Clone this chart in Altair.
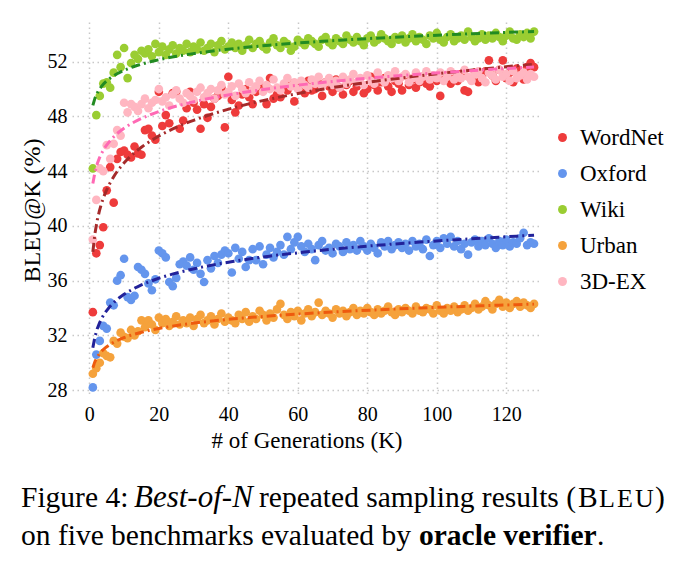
import altair as alt
import pandas as pd

K = list(range(1, 129))

benchmarks = ["WordNet", "Oxford", "Wiki", "Urban", "3D-EX"]

wordnet = [
    33.7, 38.0, 38.6, 39.9, 42.6, 44.3, 41.7, 44.9, 45.4, 45.5,
    45.2, 45.0, 45.8, 45.3, 45.2, 47.0, 47.1, 46.6, 46.3, 49.8,
    47.3, 48.1, 47.5, 49.7, 49.8, 47.1, 47.7, 48.6, 49.8, 49.0,
    48.5, 47.1, 48.9, 47.9, 48.7, 49.3, 49.5, 50.1, 47.2, 50.9,
    49.2, 48.3, 48.8, 49.6, 50.0, 49.4, 48.9, 49.8, 50.3, 49.9,
    48.9, 50.8, 49.3, 49.6, 49.4, 50.2, 49.9, 50.4, 49.1, 50.1,
    50.3, 49.7, 50.6, 49.9, 50.0, 50.4, 49.5, 50.5, 50.2, 49.8,
    50.7, 50.1, 49.6, 50.3, 50.6, 49.8, 50.2, 50.4, 49.7, 50.0,
    50.9, 50.3, 49.9, 50.5, 50.8, 50.2, 49.8, 50.6, 50.4, 49.9,
    51.0, 50.3, 50.7, 50.1, 50.5, 50.9, 50.4, 50.2, 50.8, 50.6,
    49.5, 50.7, 51.0, 50.4, 50.9, 50.6, 51.1, 49.9, 49.8, 50.7,
    51.2, 50.5, 50.9, 51.3, 52.1, 51.0, 50.6, 51.4, 52.1, 50.8,
    51.2, 50.5, 51.5, 51.0, 50.7, 51.6, 51.9, 51.6,
]

oxford = [
    28.2, 30.6, 31.6, 32.7, 32.5, 34.4, 34.2, 36.0, 36.4, 37.6,
    34.8, 34.6, 34.9, 37.0, 36.8, 36.5, 35.8, 35.3, 36.1, 38.2,
    38.0, 37.7, 35.9, 35.6, 36.2, 37.2, 37.4, 37.1, 37.7, 36.8,
    37.3, 36.5, 35.9, 37.5, 36.9, 37.8, 37.3, 37.9, 38.2, 38.0,
    36.6, 38.4, 37.6, 38.1, 37.0, 37.5, 38.3, 37.5, 38.5, 37.2,
    37.9, 38.4, 37.7, 38.1, 38.6, 37.9, 39.2, 38.3, 38.8, 39.2,
    38.5, 38.1, 38.7, 38.3, 37.5, 38.6, 38.9, 38.2, 38.4, 38.0,
    38.7, 38.5, 38.1, 38.8, 38.3, 38.6, 38.2, 38.9, 38.5, 38.2,
    38.7, 38.4, 38.0, 38.8, 38.5, 38.9, 38.3, 38.6, 38.8, 38.4,
    38.7, 38.2, 38.9, 38.5, 38.7, 38.3, 39.0, 37.8, 38.6, 38.9,
    38.4, 39.1, 38.7, 39.2, 38.5, 38.9, 38.3, 38.7, 37.9, 38.8,
    39.0, 38.5, 38.9, 38.6, 39.1, 38.7, 38.4, 38.9, 38.6, 39.0,
    38.5, 38.8, 38.7, 39.1, 39.5, 38.6, 38.8, 38.7,
]

wiki = [
    44.2, 48.1, 49.5, 50.4, 50.5, 50.1, 51.2, 52.5, 51.6, 53.0,
    50.8, 51.9, 52.5, 52.2, 52.8, 52.6, 52.9, 52.4, 53.3, 52.7,
    53.1, 52.5, 52.9, 53.2, 52.6, 53.0, 52.8, 53.3, 52.7, 53.1,
    52.9, 53.4, 52.8, 53.0, 53.3, 52.7, 53.2, 53.5, 52.9, 53.1,
    53.4, 53.0, 53.3, 52.8, 53.2, 53.6, 53.0, 53.3, 53.5, 53.1,
    52.9, 53.4, 53.7, 53.2, 53.0, 53.5, 53.3, 52.8, 53.1, 53.6,
    53.4, 53.2, 53.7, 53.5, 53.3, 53.1, 53.6, 53.8, 53.4, 53.2,
    53.7, 53.5, 53.3, 53.9, 53.6, 53.4, 53.8, 53.5, 53.2, 53.7,
    53.9, 53.4, 53.6, 54.0, 53.7, 53.5, 53.3, 53.8, 53.6, 53.9,
    53.4, 53.7, 54.0, 53.5, 53.8, 53.6, 53.3, 53.9, 53.7, 54.1,
    53.6, 53.4, 53.8, 54.0, 53.5, 53.7, 53.9, 53.6, 54.2, 53.8,
    53.5, 53.7, 54.0, 53.6, 53.9, 53.7, 54.1, 53.8, 53.5, 53.9,
    54.2, 53.7, 53.6, 54.0, 53.8, 54.1, 53.7, 54.2,
]

urban = [
    29.2, 29.6, 30.0, 30.7, 30.5, 30.4, 31.6, 31.4, 32.2, 31.9,
    31.8, 32.4, 32.0, 32.3, 33.1, 32.6, 33.1, 32.8, 32.4, 33.3,
    32.9, 33.2, 32.7, 33.0, 33.4, 32.8, 33.1, 32.9, 33.3, 32.7,
    33.2, 33.5, 32.9, 33.1, 33.4, 32.8, 33.2, 33.6, 33.0, 33.3,
    33.1, 32.9, 33.5, 33.2, 33.7, 33.0, 33.4, 33.2, 33.8, 33.5,
    33.1, 33.6, 33.3, 33.9, 34.3, 33.5, 33.2, 33.7, 33.4, 33.8,
    33.1, 33.6, 33.9, 33.4, 33.7, 34.4, 33.5, 33.8, 33.6, 33.3,
    33.9, 33.6, 33.8, 33.4, 33.7, 34.0, 33.5, 33.8, 33.6, 34.0,
    33.7, 33.5, 33.9, 33.6, 33.8, 34.1, 33.7, 33.5, 33.9, 33.7,
    34.0, 33.8, 33.6, 34.1, 33.8, 33.7, 34.0, 33.9, 33.6, 34.2,
    33.8, 33.6, 34.0, 33.8, 34.1, 33.7, 33.9, 34.2, 33.8, 34.0,
    34.3, 33.9, 34.1, 34.5, 34.2, 33.9, 34.3, 34.6, 34.1, 34.4,
    34.0, 34.3, 34.5, 34.1, 34.4, 34.2, 34.0, 34.3,
]

ex3d = [
    39.0, 41.9, 44.2, 44.0, 45.9, 44.9, 46.0, 47.0, 46.6, 49.0,
    48.3, 48.9, 48.7, 48.4, 48.9, 49.3, 48.6, 49.0, 49.2, 50.0,
    49.1, 49.4, 48.8, 49.6, 49.9, 49.3, 49.0, 49.7, 49.5, 49.2,
    49.8, 50.1, 49.4, 49.7, 50.0, 49.3, 49.9, 50.3, 49.6, 49.8,
    50.2, 49.5, 50.4, 50.0, 49.7, 50.5, 49.9, 50.2, 50.6, 49.8,
    50.3, 50.0, 50.7, 50.1, 49.9, 50.4, 50.8, 50.2, 50.5, 50.0,
    50.6, 50.3, 50.1, 50.7, 50.4, 50.9, 50.2, 50.5, 50.8, 50.3,
    50.6, 50.1, 50.9, 50.4, 50.7, 51.1, 50.5, 50.8, 50.3, 51.0,
    50.6, 50.4, 51.2, 50.7, 50.5, 51.0, 50.8, 51.3, 50.6, 50.9,
    51.1, 50.5, 50.8, 51.2, 50.6, 50.9, 51.3, 50.7, 51.0, 50.8,
    51.2, 50.6, 50.9, 51.3, 50.7, 51.0, 50.8, 51.4, 50.9, 50.6,
    51.1, 51.3, 50.8, 50.5, 51.2, 51.0, 50.7, 51.4, 50.9, 51.1,
    50.6, 51.3, 50.8, 51.0, 51.2, 50.7, 51.1, 50.9,
]

x_ticks = [0, 20, 40, 60, 80, 100, 120]
y_ticks = [28, 32, 36, 40, 44, 48, 52]

point_colors = ["#EE3B3B", "#6495ED", "#9ACD32", "#F5A23C", "#FFB6C1"]
line_colors = ["#A52A2A", "#22229A", "#228B22", "#EE5A0E", "#FF69B4"]

rows = []
for name, vals in zip(benchmarks, [wordnet, oxford, wiki, urban, ex3d]):
    for k, v in zip(K, vals):
        rows.append({"K": k, "BLEU": v, "Benchmark": name})
df = pd.DataFrame(rows)

SERIF = "Liberation Serif"
W, H = 469, 375
OX, OY = 72, 22  # page position of plot origin

xscale = alt.Scale(domain=[-5, 130], nice=False, zero=False)
yscale = alt.Scale(domain=[27.5, 54.9], nice=False, zero=False)

xaxis = alt.Axis(values=x_ticks, title="# of Generations (K)", titleY=32,
                 titleBaseline="top", labelPadding=7)
yaxis = alt.Axis(values=y_ticks, title="BLEU@K (%)", titleX=-40, titleY=188,
                 titleAngle=-90, titleAlign="center", titleBaseline="middle",
                 titleFontSize=24, labelPadding=5)

base = alt.Chart(df)

points = base.mark_circle(size=75, opacity=1).encode(
    x=alt.X("K:Q", scale=xscale, axis=xaxis),
    y=alt.Y("BLEU:Q", scale=yscale, axis=yaxis),
    color=alt.Color(
        "Benchmark:N",
        scale=alt.Scale(domain=benchmarks, range=point_colors),
        legend=alt.Legend(
            title=None, orient="none", legendX=479, legendY=104,
            symbolType="circle", symbolSize=80, labelFont=SERIF,
            labelFontSize=23, labelOffset=6, rowPadding=12, padding=0,
            labelColor="black", symbolStrokeWidth=0, symbolOpacity=1,
        ),
    ),
)

fits = base.transform_regression(
    "K", "BLEU", method="log", groupby=["Benchmark"]
).mark_line(strokeDash=[9, 4, 2, 4], strokeWidth=3).encode(
    x=alt.X("K:Q", scale=xscale),
    y=alt.Y("BLEU:Q", scale=yscale),
    color=alt.Color(
        "Benchmark:N",
        scale=alt.Scale(domain=benchmarks, range=line_colors),
        legend=None,
    ),
)


def caption(text, px, py, size=29.5, style="normal", weight="normal"):
    return alt.Chart(pd.DataFrame({"t": [text]})).mark_text(
        align="left", baseline="alphabetic", font=SERIF, fontSize=size,
        fontStyle=style, fontWeight=weight, color="black",
    ).encode(text="t:N", x=alt.value(px - OX), y=alt.value(py - OY))


L1, L2 = 507, 545
cap = [
    caption("Figure 4:", 21, L1),
    caption("Best-of-N", 134, L1, size=31, style="italic"),
    caption("repeated sampling results (", 259, L1),
    caption("B", 578, L1),
    caption("L", 599, L1, size=26),
    caption("E", 617, L1, size=26),
    caption("U", 635, L1, size=26),
    caption(")", 655, L1),
    caption("on five benchmarks evaluated by", 21, L2),
    caption("oracle verifier", 419, L2, weight="bold"),
    caption(".", 597, L2),
]

chart = alt.layer(points, fits, *cap).resolve_scale(color="independent").properties(
    width=W, height=H,
    background="white",
    autosize=alt.AutoSizeParams(type="none"),
    padding={"left": OX, "top": OY, "right": 693 - OX - W, "bottom": 565 - OY - H},
).configure_view(stroke=None).configure_axis(
    domain=False, ticks=False, grid=True, gridColor="#c8c8c8",
    gridDash=[1.5, 3.5], gridWidth=1.5,
    labelFont=SERIF, labelFontSize=20, labelColor="black",
    titleFont=SERIF, titleFontSize=23, titleFontWeight="normal", titleColor="black",
)

chart.save("out.html", embed_options={"renderer": "svg", "actions": False})
